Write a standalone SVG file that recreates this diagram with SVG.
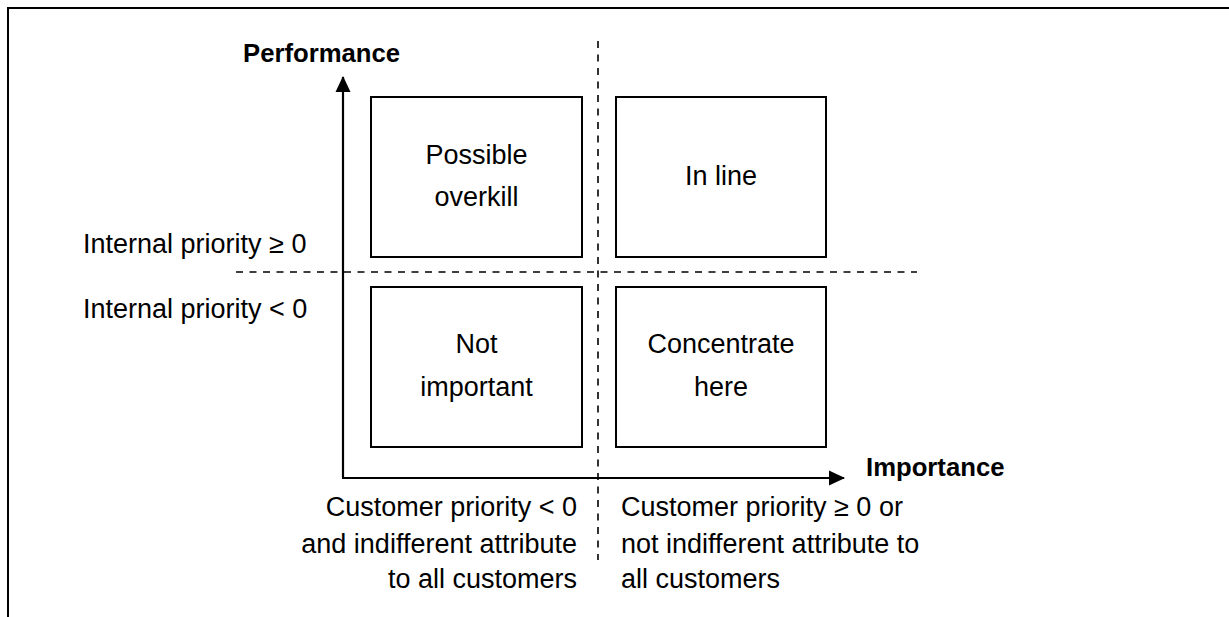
<svg xmlns="http://www.w3.org/2000/svg" width="1229" height="617" viewBox="0 0 1229 617">
  <style>
    text { font-family: "Liberation Sans", Arial, sans-serif; fill: #000; }
    .lbl { font-size: 27px; }
    .bold { font-size: 25.7px; font-weight: bold; }
    .box { fill: #fff; stroke: #000; stroke-width: 2; }
    .axis { stroke: #000; stroke-width: 2.2; fill: none; }
    .dash { stroke: #000; stroke-width: 1.6; stroke-dasharray: 7 6.5; fill: none; }
    .mid { text-anchor: middle; }
    .end { text-anchor: end; }
  </style>
  <defs>
    <marker id="arrow" viewBox="0 0 16 16" refX="15" refY="8" markerWidth="16" markerHeight="16" markerUnits="userSpaceOnUse" orient="auto">
      <path d="M0,0.5 L16,8 L0,15.5 Z" fill="#000"/>
    </marker>
  </defs>
  <rect width="1229" height="617" fill="#fff"/>
  <g id="frame">
    <path d="M1229,8 L8,8 L8,617" fill="none" stroke="#000" stroke-width="2"/>
  </g>

  <g id="connectors">
    <line class="dash" x1="598" y1="41" x2="598" y2="560"/>
    <line class="dash" x1="236" y1="272" x2="917" y2="272"/>
    <line id="y-axis" class="axis" x1="343" y1="478" x2="343" y2="77" marker-end="url(#arrow)"/>
    <line id="x-axis" class="axis" x1="342" y1="478" x2="844" y2="478" marker-end="url(#arrow)"/>
  </g>

  <g id="box-possible-overkill">
    <rect class="box" x="371" y="97" width="211" height="160"/>
    <text class="lbl mid" x="476.5" y="164">Possible</text>
    <text class="lbl mid" x="476.5" y="206">overkill</text>
  </g>
  <g id="box-in-line">
    <rect class="box" x="616" y="97" width="210" height="160"/>
    <text class="lbl mid" x="721" y="185">In line</text>
  </g>
  <g id="box-not-important">
    <rect class="box" x="371" y="287" width="211" height="160"/>
    <text class="lbl mid" x="476.5" y="353">Not</text>
    <text class="lbl mid" x="476.5" y="396">important</text>
  </g>
  <g id="box-concentrate-here">
    <rect class="box" x="616" y="287" width="210" height="160"/>
    <text class="lbl mid" x="721" y="353">Concentrate</text>
    <text class="lbl mid" x="721" y="396">here</text>
  </g>

  <g id="label-performance">
    <text class="bold" x="243" y="62">Performance</text>
  </g>
  <g id="label-importance">
    <text class="bold" x="866" y="476">Importance</text>
  </g>
  <g id="label-internal">
    <text class="lbl" x="83" y="253">Internal priority ≥ 0</text>
    <text class="lbl" x="83" y="318">Internal priority &lt; 0</text>
  </g>
  <g id="label-customer-left">
    <text class="lbl end" x="577" y="516">Customer priority &lt; 0</text>
    <text class="lbl end" x="577" y="553">and indifferent attribute</text>
    <text class="lbl end" x="577" y="588">to all customers</text>
  </g>
  <g id="label-customer-right">
    <text class="lbl" x="621" y="516">Customer priority ≥ 0 or</text>
    <text class="lbl" x="621" y="553">not indifferent attribute to</text>
    <text class="lbl" x="621" y="588">all customers</text>
  </g>
</svg>
